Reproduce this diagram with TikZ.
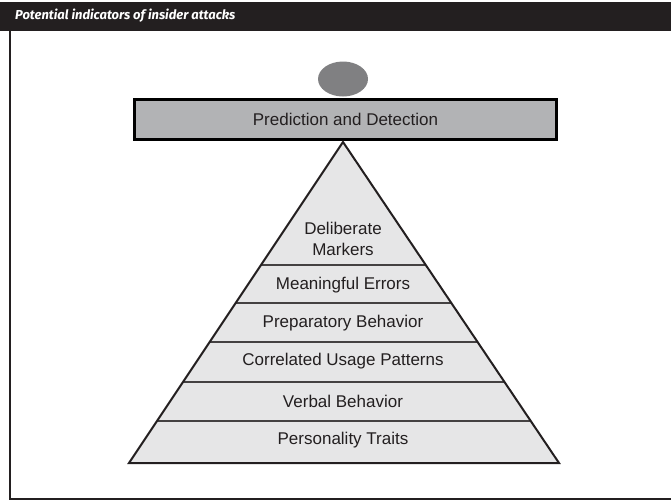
\documentclass[tikz,border=0pt]{standalone}
\usepackage{fontspec}
\setmainfont{Liberation Sans}
\newfontfamily\titlefont{Fira Sans}
\usetikzlibrary{shapes.geometric}

\definecolor{inkdark}{RGB}{35,31,32}
\definecolor{boxgray}{RGB}{178,179,181}
\definecolor{knobgray}{RGB}{128,128,130}
\definecolor{layergray}{RGB}{230,230,231}

\begin{document}
\begin{tikzpicture}[x=1pt,y=-1pt,
    layer/.style={text=inkdark, font=\fontsize{17}{21}\selectfont, align=center, inner sep=0},
    predbox/.style={draw=black, line width=3, fill=boxgray, minimum width=422, minimum height=40,
        inner sep=0, text=inkdark, font=\fontsize{17}{21}\selectfont}]

    \useasboundingbox (0,0) rectangle (671,501);

    \def\pyramid{(343,142) -- (559,463) -- (129,463) -- cycle}

    %header bar:
    \fill[inkdark] (0,2) rectangle (671,31);
    \node (title) [anchor=west, inner sep=0, text=white,
        font=\titlefont\bfseries\itshape\fontsize{13}{15}\selectfont] at (15,16)
        {Potential indicators of insider attacks};

    %frame:
    \draw[inkdark, line width=2] (10,31) -- (10,499) -- (671,499);

    %knob and top bar:
    \node (knob) [ellipse, fill=knobgray, minimum width=50, minimum height=35, inner sep=0] at (343,79) {};
    \node (predict) [predbox] at (345.5,119.5) {Prediction and Detection};

    %pyramid with its layers:
    \fill[layergray] \pyramid;
    \begin{scope}
        \clip \pyramid;
        \foreach \y in {265,303,342,382,421}
            \draw[inkdark!85, line width=1.5] (100,\y) -- (600,\y);
    \end{scope}
    \draw[inkdark, line width=2, line join=miter] \pyramid;

    %layer labels:
    \node (deliberate)  [layer] at (343,238.5) {Deliberate\\Markers};
    \node (meaningful)  [layer] at (343,285)   {Meaningful Errors};
    \node (preparatory) [layer] at (343,323)   {Preparatory Behavior};
    \node (correlated)  [layer] at (343,361)   {Correlated Usage Patterns};
    \node (verbal)      [layer] at (343,401)   {Verbal Behavior};
    \node (personality) [layer] at (343,440)   {Personality Traits};

\end{tikzpicture}
\end{document}
